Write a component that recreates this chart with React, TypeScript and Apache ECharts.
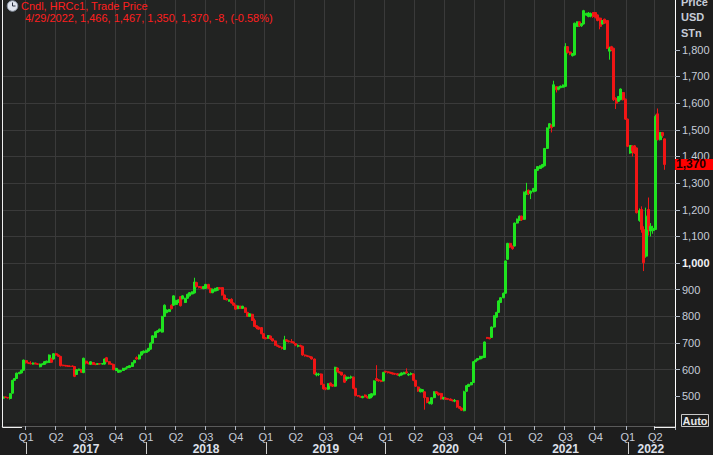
import React, { useEffect, useRef } from "react";
import * as echarts from "echarts";

const FONT = '"Liberation Sans", Arial, Helvetica, sans-serif';

// weekly bars, week-ending Fridays
const firstWeekEnding = "2016-10-28";
const totalWeeks = 292;

// [open, close, low, high]
const ohlc2016 = [
  [493, 498, 490, 500], [498, 496, 494, 499], [496, 494, 492, 497], [492, 510, 488, 512],
  [512, 560, 510, 562], [560, 567, 558, 569], [567, 587, 565, 589], [585, 590, 583, 592],
  [588, 598, 586, 600], [598, 636, 596, 638],
];
const ohlc2017 = [
  [634, 626, 623, 636], [626, 624, 621, 627], [624, 622, 620, 632], [621, 625, 619, 627],
  [625, 622, 620, 626], [622, 620, 618, 624], [611, 621, 609, 623], [619, 622, 617, 624],
  [620, 630, 618, 632], [626, 632, 624, 634], [627, 655, 625, 657], [642, 628, 626, 645],
  [640, 660, 638, 662], [660, 655, 652, 663], [655, 650, 648, 657], [650, 615, 612, 652],
  [617, 615, 613, 619], [616, 614, 612, 618], [615, 613, 611, 617], [614, 612, 610, 616],
  [614, 612, 610, 616], [612, 575, 572, 614], [582, 600, 580, 602], [598, 602, 596, 604],
  [600, 590, 588, 602], [589, 643, 587, 645], [632, 625, 620, 634], [625, 622, 620, 626],
  [620, 630, 618, 632], [627, 620, 618, 629], [621, 619, 617, 623], [620, 623, 618, 625],
  [623, 621, 619, 625], [621, 623, 619, 625], [621, 640, 619, 642], [645, 630, 628, 648],
  [630, 621, 619, 632], [622, 620, 618, 623], [620, 600, 598, 622], [597, 605, 595, 607],
  [590, 598, 588, 600], [592, 597, 590, 599], [597, 605, 595, 607], [602, 606, 600, 608],
  [607, 612, 605, 614], [608, 615, 606, 617], [612, 626, 610, 628], [626, 635, 624, 637],
  [645, 640, 638, 650], [640, 655, 638, 657], [655, 667, 653, 669], [663, 670, 661, 672],
];
const ohlc2018 = [
  [665, 673, 663, 675], [670, 680, 668, 682], [677, 700, 675, 702], [700, 727, 698, 729],
  [721, 742, 719, 744], [740, 746, 738, 748], [744, 752, 742, 754], [741, 800, 739, 802],
  [800, 842, 798, 845], [814, 824, 812, 826], [818, 826, 816, 828], [842, 829, 826, 845],
  [842, 877, 840, 879], [845, 860, 843, 862], [852, 862, 850, 864], [874, 840, 837, 876],
  [866, 877, 864, 879], [852, 868, 850, 870], [868, 883, 866, 885], [877, 889, 875, 891],
  [884, 892, 882, 894], [888, 929, 886, 945], [927, 912, 908, 930], [912, 908, 905, 914],
  [910, 906, 903, 912], [904, 912, 902, 914], [905, 920, 903, 922], [920, 905, 903, 922],
  [905, 889, 887, 907], [889, 902, 887, 904], [895, 905, 893, 907], [898, 908, 896, 910],
  [908, 903, 901, 910], [908, 880, 878, 910], [880, 864, 862, 882], [867, 862, 860, 869],
  [857, 862, 855, 864], [864, 850, 848, 868], [850, 842, 840, 852], [842, 827, 825, 844],
  [829, 839, 827, 841], [838, 830, 828, 840], [830, 838, 828, 840], [832, 815, 813, 834],
  [815, 800, 798, 817], [800, 810, 798, 812], [808, 785, 783, 810], [785, 762, 760, 792],
  [765, 758, 752, 767], [760, 752, 750, 762], [758, 735, 733, 760], [735, 718, 716, 737],
];
const ohlc2019 = [
  [720, 716, 714, 722], [718, 728, 716, 730], [726, 716, 712, 728], [716, 708, 706, 718],
  [708, 692, 690, 710], [692, 688, 686, 694], [688, 684, 682, 690], [684, 680, 676, 686],
  [676, 712, 674, 727], [712, 708, 705, 714], [708, 705, 702, 710], [706, 703, 700, 715],
  [704, 700, 697, 706], [698, 692, 688, 700], [688, 691, 684, 695], [691, 688, 684, 694],
  [688, 655, 652, 690], [655, 652, 649, 657], [652, 650, 647, 654], [650, 648, 645, 652],
  [648, 640, 638, 650], [640, 584, 582, 642], [580, 584, 575, 590], [582, 584, 576, 588],
  [584, 545, 542, 586], [545, 528, 525, 547], [532, 527, 523, 534], [527, 547, 525, 549],
  [550, 540, 538, 552], [544, 538, 535, 546], [538, 609, 536, 611], [606, 592, 590, 608],
  [592, 588, 586, 594], [590, 580, 578, 592], [580, 553, 550, 582], [565, 572, 558, 574],
  [568, 571, 565, 574], [570, 573, 566, 578], [572, 530, 527, 574], [530, 503, 500, 532],
  [503, 501, 498, 505], [500, 497, 495, 502], [495, 500, 493, 502], [505, 498, 496, 507],
  [498, 494, 492, 500], [493, 507, 491, 509], [498, 510, 493, 512], [505, 558, 503, 560],
  [567, 562, 557, 617], [562, 558, 555, 564], [560, 556, 553, 562], [558, 590, 556, 592],
];
const ohlc2020 = [
  [594, 591, 588, 596], [592, 589, 586, 594], [590, 587, 584, 592], [588, 584, 582, 590],
  [586, 583, 580, 588], [585, 580, 578, 587], [578, 581, 574, 586], [580, 588, 578, 590],
  [584, 590, 582, 592], [592, 588, 585, 605], [580, 583, 576, 587], [583, 585, 579, 590],
  [584, 560, 557, 586], [560, 538, 535, 562], [535, 520, 517, 537], [517, 527, 515, 529],
  [518, 525, 515, 527], [517, 495, 450, 519], [495, 477, 474, 497], [474, 478, 470, 481],
  [472, 495, 469, 497], [495, 517, 493, 519], [517, 512, 509, 519], [512, 505, 503, 514],
  [511, 490, 488, 513], [490, 496, 488, 498], [494, 490, 487, 496], [492, 488, 486, 494],
  [490, 485, 483, 492], [486, 483, 481, 488], [482, 485, 478, 490], [484, 460, 457, 486],
  [462, 455, 452, 464], [456, 448, 445, 458], [446, 517, 444, 521], [519, 540, 517, 542],
  [537, 545, 535, 547], [543, 552, 541, 554], [552, 630, 550, 632], [630, 636, 628, 638],
  [636, 642, 634, 644], [640, 650, 638, 652], [645, 650, 642, 652], [646, 704, 644, 706],
  [721, 718, 715, 723], [719, 716, 714, 721], [721, 760, 719, 762], [760, 802, 758, 804],
  [797, 815, 795, 817], [815, 858, 813, 860], [852, 870, 850, 872], [870, 887, 868, 889],
];
const ohlc2021 = [
  [887, 1008, 885, 1010], [1014, 1074, 1012, 1076], [1074, 1060, 1056, 1076], [1062, 1054, 1050, 1066],
  [1064, 1150, 1062, 1152], [1150, 1165, 1148, 1167], [1160, 1176, 1158, 1178], [1176, 1162, 1158, 1178],
  [1164, 1266, 1162, 1268], [1258, 1270, 1256, 1301], [1273, 1260, 1255, 1276], [1262, 1270, 1240, 1272],
  [1268, 1280, 1265, 1282], [1270, 1351, 1268, 1353], [1348, 1362, 1346, 1364], [1355, 1365, 1353, 1367],
  [1360, 1370, 1358, 1372], [1365, 1430, 1363, 1432], [1430, 1507, 1428, 1509], [1507, 1523, 1505, 1525],
  [1518, 1508, 1490, 1520], [1513, 1669, 1511, 1684], [1662, 1650, 1640, 1664], [1652, 1660, 1648, 1662],
  [1658, 1664, 1656, 1666], [1660, 1668, 1658, 1670], [1663, 1812, 1661, 1825], [1812, 1790, 1786, 1814],
  [1792, 1784, 1780, 1794], [1778, 1786, 1775, 1788], [1781, 1900, 1779, 1902], [1888, 1905, 1886, 1907],
  [1905, 1890, 1886, 1907], [1890, 1898, 1886, 1900], [1897, 1947, 1895, 1950], [1930, 1937, 1928, 1939],
  [1925, 1938, 1922, 1942], [1926, 1936, 1922, 1940], [1940, 1925, 1920, 1942], [1940, 1922, 1918, 1942],
  [1931, 1910, 1907, 1933], [1919, 1888, 1877, 1921], [1897, 1910, 1895, 1912], [1915, 1900, 1897, 1917],
  [1910, 1806, 1803, 1912], [1795, 1806, 1763, 1812], [1812, 1800, 1795, 1815], [1806, 1613, 1608, 1808],
  [1618, 1600, 1578, 1622], [1607, 1625, 1604, 1627], [1613, 1653, 1611, 1655], [1640, 1613, 1610, 1642],
  [1615, 1540, 1537, 1617],
];
const ohlc2022 = [
  [1540, 1438, 1435, 1542], [1413, 1441, 1410, 1443], [1438, 1420, 1400, 1442], [1440, 1413, 1410, 1443],
  [1432, 1189, 1186, 1434], [1160, 1197, 1155, 1205], [1201, 1126, 1114, 1213], [1126, 1001, 970, 1138],
  [1026, 1176, 1020, 1208], [1201, 1126, 1103, 1246], [1120, 1138, 1100, 1150], [1122, 1130, 1110, 1140],
  [1126, 1550, 1124, 1557], [1560, 1463, 1460, 1580], [1463, 1490, 1460, 1492], [1490, 1478, 1470, 1492],
  [1466, 1370, 1350, 1467],
];

const quarterNames = ["Q1", "Q2", "Q3", "Q4"];
const priceTickValues = [500, 600, 700, 800, 900, 1000, 1100, 1200, 1300, 1400, 1500, 1600, 1700, 1800];
const unitLabels = ["Price", "USD", "STn"];
const instrumentTitle = "Cndl, HRCc1, Trade Price";
const lastBarDate = "4/29/2022";
const lastChange = -8;
const lastChangePct = "-0.58%";

const priceData = [...ohlc2016, ...ohlc2017, ...ohlc2018, ...ohlc2019, ...ohlc2020, ...ohlc2021, ...ohlc2022];

function buildWeeks(start: string, n: number): string[] {
  const base = new Date(start + "T00:00:00Z").getTime();
  const out: string[] = [];
  for (let i = 0; i < n; i++) out.push(new Date(base + i * 7 * 86400000).toISOString().slice(0, 10));
  return out;
}
const weeks = buildWeeks(firstWeekEnding, totalWeeks);

const fmt = (v: number) => v.toLocaleString("en-US");
const yr = (s: string) => s.slice(0, 4);
const qIdx = (s: string) => Math.floor((Number(s.slice(5, 7)) - 1) / 3);
const isQuarterStart = (i: number) =>
  i > 0 && (qIdx(weeks[i]) !== qIdx(weeks[i - 1]) || yr(weeks[i]) !== yr(weeks[i - 1]));
const isYearStart = (i: number) => i > 0 && yr(weeks[i]) !== yr(weeks[i - 1]);

const yearLabelIdx = new Set<number>();
(() => {
  const groups: Record<string, number[]> = {};
  weeks.forEach((w, i) => {
    (groups[yr(w)] = groups[yr(w)] || []).push(i);
  });
  Object.values(groups).forEach((idx) => {
    if (idx.length >= 13) yearLabelIdx.add(Math.round((idx[0] + idx[idx.length - 1]) / 2));
  });
})();

const UP = "#1fe31f";
const DOWN = "#f01515";
const LABEL = "#c6ccd8";
const GRID = "#3a3a3a";

export default function App() {
  const ref = useRef<HTMLDivElement>(null);
  useEffect(() => {
    if (!ref.current) return;
    const chart = echarts.init(ref.current, null, { renderer: "svg" });
    const last = priceData[priceData.length - 1];
    const headerLine = `${lastBarDate}, ${fmt(last[0])}, ${fmt(last[3])}, ${fmt(last[2])}, ${fmt(last[1])}, ${lastChange}, (${lastChangePct})`;
    chart.setOption({
      animation: false,
      backgroundColor: "#1d1d1d",
      textStyle: { fontFamily: FONT },
      grid: { left: 2, right: 38, top: 0, bottom: 31, show: true, backgroundColor: "#222322", borderWidth: 0 },
      xAxis: [
        {
          type: "category",
          data: weeks,
          boundaryGap: true,
          position: "bottom",
          offset: 3,
          axisLine: { show: true, lineStyle: { color: "#5a5a5a", width: 1 } },
          axisTick: { show: true, interval: (i: number) => isQuarterStart(i), length: 4, lineStyle: { color: "#b0b8c4" } },
          axisLabel: {
            interval: (i: number) => isQuarterStart(i),
            formatter: (v: string) => quarterNames[qIdx(v)],
            color: LABEL,
            fontSize: 11,
            fontFamily: FONT,
            margin: 5,
          },
          splitLine: { show: true, interval: (i: number) => isQuarterStart(i), lineStyle: { color: GRID, width: 1 } },
        },
        {
          type: "category",
          data: weeks,
          boundaryGap: true,
          position: "bottom",
          offset: 19,
          axisLine: { show: false },
          axisTick: {
            show: true,
            alignWithLabel: true,
            interval: (i: number) => isYearStart(i),
            length: 12,
            lineStyle: { color: "#d0d0d0" },
          },
          axisLabel: {
            interval: (i: number) => yearLabelIdx.has(i),
            formatter: (v: string) => yr(v),
            color: "#dde0ea",
            fontWeight: "bold",
            fontSize: 12,
            fontFamily: FONT,
            margin: 1,
          },
          splitLine: { show: false },
        },
      ],
      yAxis: {
        type: "value",
        position: "right",
        min: 400,
        max: 1987,
        interval: 100,
        axisLine: { show: true, lineStyle: { color: "#ffffff", width: 1 } },
        axisTick: { show: true, length: 5, lineStyle: { color: "#b0b8c4" }, customValues: priceTickValues },
        axisLabel: {
          margin: 7,
          color: LABEL,
          fontSize: 11,
          fontFamily: FONT,
          formatter: (v: number) => {
            if (v < 450 || v > 1850) return "";
            if (v === 1000) return "{b|" + fmt(v) + "}";
            return fmt(v);
          },
          rich: { b: { fontWeight: "bold", color: "#f2f2f6", fontSize: 11, fontFamily: FONT } },
        },
        splitLine: { show: true, showMinLine: false, showMaxLine: false, lineStyle: { color: GRID, width: 1 } },
      },
      series: [
        {
          type: "candlestick",
          data: priceData,
          barWidth: 2.5,
          itemStyle: { color: UP, color0: DOWN, borderColor: UP, borderColor0: DOWN, borderWidth: 1 },
          markLine: {
            silent: true,
            symbol: ["none", "none"],
            data: [{ yAxis: last[1] }],
            lineStyle: { color: "rgba(0,0,0,0)", width: 0, type: "solid" },
            label: {
              show: true,
              position: "end",
              distance: 0,
              formatter: fmt(last[1]),
              backgroundColor: "#ff0000",
              color: "#1a0000",
              fontWeight: "bold",
              fontSize: 12,
              fontFamily: FONT,
              lineHeight: 11,
              padding: [0, 10, 0, 1],
            },
          },
        },
      ],
      graphic: {
        elements: [
          { type: "line", shape: { x1: 2.5, y1: 0, x2: 2.5, y2: 427.5 }, style: { stroke: "#f0f0f0", lineWidth: 1 }, z: 10 },
          { type: "line", shape: { x1: 2.5, y1: 427.5, x2: 22, y2: 427.5 }, style: { stroke: "#f0f0f0", lineWidth: 1 }, z: 10 },
          {
            type: "polyline",
            shape: { points: [[654, 427.5], [675.5, 427.5], [675.5, 420]] },
            style: { stroke: "#f0f0f0", lineWidth: 1, fill: null },
            z: 10,
          },
          { type: "circle", shape: { cx: 12.5, cy: 6, r: 5.3 }, style: { fill: "#dfe4ec", stroke: "#8a94a4", lineWidth: 1 }, z: 10 },
          { type: "line", shape: { x1: 12.5, y1: 6, x2: 12.5, y2: 2.5 }, style: { stroke: "#2a3040", lineWidth: 1 }, z: 11 },
          { type: "line", shape: { x1: 12.5, y1: 6, x2: 15.5, y2: 6 }, style: { stroke: "#2a3040", lineWidth: 1 }, z: 11 },
          {
            type: "text",
            x: 21,
            y: 6,
            style: { text: instrumentTitle, fill: "#ff1f1f", fontSize: 11, fontFamily: FONT, verticalAlign: "middle" },
            z: 10,
          },
          {
            type: "text",
            x: 25,
            y: 17.5,
            style: { text: headerLine, fill: "#ff1f1f", fontSize: 11, fontFamily: FONT, verticalAlign: "middle" },
            z: 10,
          },
          ...unitLabels.map((t, i) => ({
            type: "text",
            x: 681,
            y: 1.5 + i * 15.5,
            style: { text: t, fill: LABEL, fontSize: 11, fontWeight: "bold", fontFamily: FONT, verticalAlign: "middle" },
            z: 10,
          })),
          {
            type: "rect",
            shape: { x: 681.5, y: 414.5, width: 27, height: 12 },
            style: { fill: "#1d1d1d", stroke: "#c8c8c8", lineWidth: 1 },
            z: 10,
          },
          {
            type: "text",
            x: 695,
            y: 420.5,
            style: {
              text: "Auto",
              fill: "#e6e6e6",
              fontSize: 11,
              fontWeight: "bold",
              fontFamily: FONT,
              align: "center",
              verticalAlign: "middle",
            },
            z: 11,
          },
        ],
      },
    });
    return () => chart.dispose();
  }, []);
  return (
    <div
      ref={ref}
      style={{ position: "fixed", left: 0, top: 0, width: 713, height: 455, background: "#1d1d1d" }}
    />
  );
}
